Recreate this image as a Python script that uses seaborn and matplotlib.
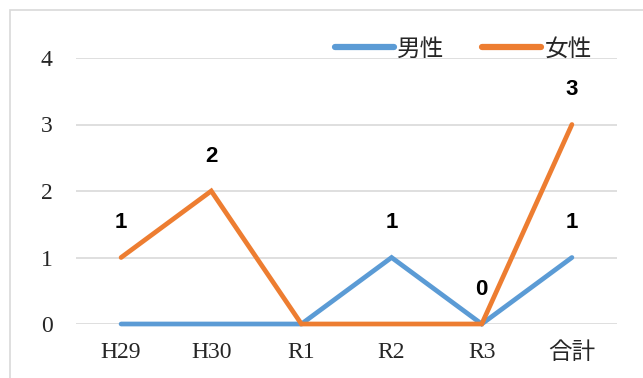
import pandas as pd
import matplotlib.pyplot as plt
import seaborn as sns
from matplotlib.patches import Rectangle

# Chart data
categories = ['H29', 'H30', 'R1', 'R2', 'R3', '合計']
male = [0, 0, 0, 1, 0, 1]
female = [1, 2, 0, 0, 0, 3]
series_names = ['男性', '女性']
# which points carry a data label
male_labeled = [3, 4, 5]
female_labeled = [0, 1, 5]

df = pd.DataFrame({
    'cat': categories * 2,
    'value': male + female,
    'series': [series_names[0]] * len(categories) + [series_names[1]] * len(categories),
})

sns.set_style('white')
plt.rcParams['font.family'] = ['Liberation Serif', 'Noto Sans CJK JP']

fig = plt.figure(figsize=(6.43, 3.78), dpi=100)
ax = fig.add_axes([76 / 643, 1 - 324 / 378, 541 / 643, 266 / 378])

# outer chart frame
fig.patches.append(Rectangle((10 / 643, -0.5), 2, 1.5 - 10 / 378, transform=fig.transFigure,
                             fill=False, edgecolor='#D9D9D9', linewidth=1.2))

palette = {'男性': '#5B9BD5', '女性': '#ED7D31'}
sns.lineplot(data=df, x='cat', y='value', hue='series', palette=palette,
             linewidth=3.4, sort=False, errorbar=None, ax=ax, legend=True, zorder=3)

ax.set_xlim(-0.5, len(categories) - 0.5)
ax.set_ylim(0, 4)
ax.set_yticks([0, 1, 2, 3, 4])
ax.grid(axis='y', color='#D9D9D9', linewidth=1.2, zorder=0)
ax.set_axisbelow(True)
for s in ax.spines.values():
    s.set_visible(False)
ax.tick_params(axis='y', length=0, pad=17, labelsize=17)
ax.tick_params(axis='x', length=0, pad=13, labelsize=17)
ax.set_xlabel('')
ax.set_ylabel('')
for line in ax.get_lines():
    line.set_solid_capstyle('round')
    line.set_solid_joinstyle('miter')
    line.set_clip_on(False)

# data labels
for idx_list, vals in [(male_labeled, male), (female_labeled, female)]:
    for i in idx_list:
        ax.annotate(str(vals[i]), (i, vals[i]), xytext=(0, 25), textcoords='offset points',
                    ha='center', va='center', fontsize=16, fontweight='bold',
                    family='Liberation Sans', color='black')

leg = ax.legend(loc='upper right', bbox_to_anchor=(0.993, 1.152), ncol=2, frameon=False,
                fontsize=17, handlelength=2.5, columnspacing=1.6, handletextpad=0.15)
for h in leg.get_lines():
    h.set_linewidth(4.5)
    h.set_solid_capstyle('round')

fig.savefig('out.png', dpi=100)
